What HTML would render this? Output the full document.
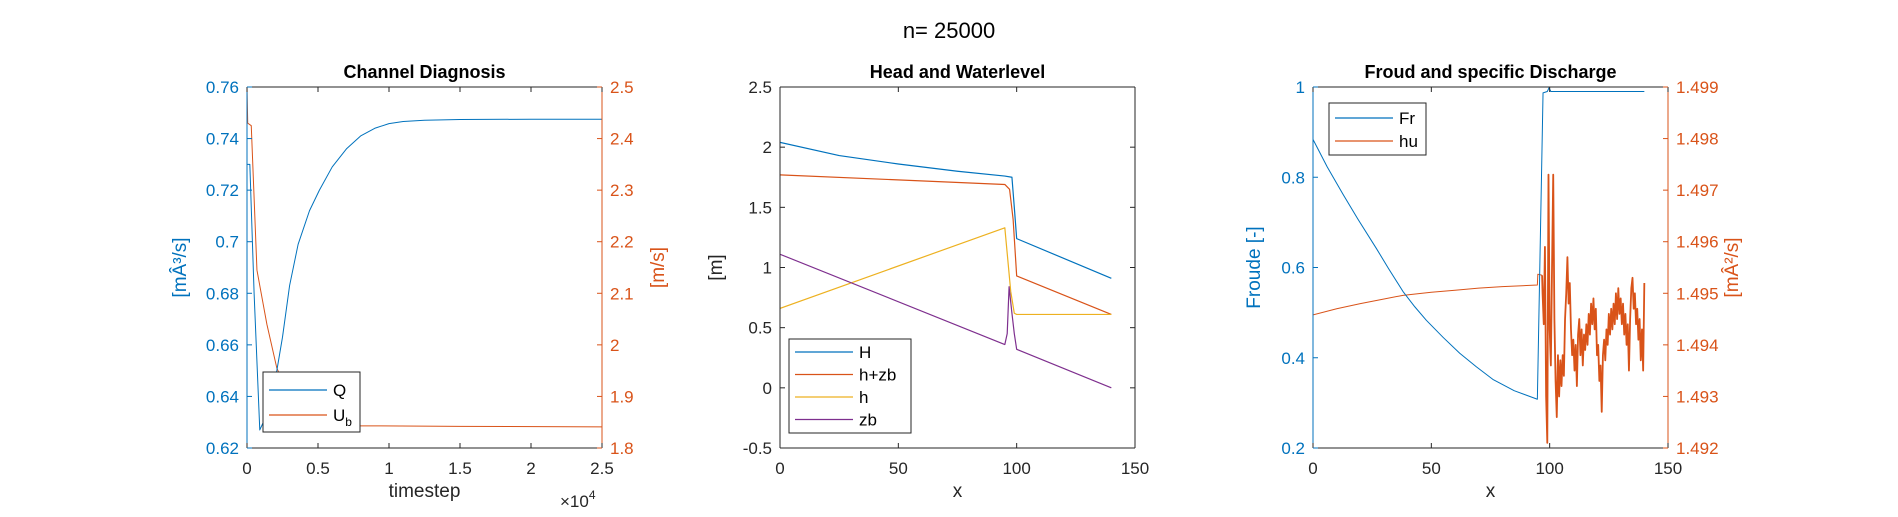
<!DOCTYPE html>
<html><head><meta charset="utf-8"><style>
html,body{margin:0;padding:0;background:#fff;}
svg{display:block;font-family:"Liberation Sans",Arial,sans-serif;}
</style></head><body>
<svg id="fig" width="1898" height="517" viewBox="0 0 1898 517">
<text x="949" y="38" font-size="22" text-anchor="middle" fill="#000">n= 25000</text>
</svg>
<script>
// ---- Panel 1 data: Channel Diagnosis ----
const qT = [0,0.02,0.05,0.09,0.14,0.21,0.25,0.30,0.36,0.44,0.51,0.60,0.70,0.80,0.90,1.0,1.1,1.25,1.5,2.0,2.5];
const qV = [0.73,0.73,0.68,0.627,0.633,0.650,0.663,0.683,0.699,0.712,0.720,0.729,0.736,0.741,0.744,0.7458,0.7466,0.7471,0.7474,0.7475,0.7475];
const uT = [0,0.005,0.03,0.07,0.10,0.14,0.21,0.30,0.45,0.60,0.80,1.5,2.5];
const uV = [2.5,2.43,2.425,2.145,2.10,2.04,1.955,1.90,1.86,1.848,1.843,1.842,1.841];
const ax1XTicks = [0,0.5,1,1.5,2,2.5];
const ax1XLabels = ["0","0.5","1","1.5","2","2.5"];
const ax1LTicks = [0.62,0.64,0.66,0.68,0.70,0.72,0.74,0.76];
const ax1LLabels = ["0.62","0.64","0.66","0.68","0.7","0.72","0.74","0.76"];
const ax1RTicks = [1.8,1.9,2.0,2.1,2.2,2.3,2.4,2.5];
const ax1RLabels = ["1.8","1.9","2","2.1","2.2","2.3","2.4","2.5"];
// ---- Panel 2 data: Head and Waterlevel ----
const hHx = [0,25,50,75,95,98,99,100,140];
const hHv = [2.04,1.93,1.86,1.80,1.76,1.75,1.5,1.24,0.91];
const hzbX = [0,95,97,98.5,100,140];
const hzbV = [1.77,1.69,1.65,1.40,0.93,0.61];
const hX = [0,95,97.5,99,100,140];
const hV = [0.66,1.33,0.80,0.62,0.61,0.61];
const zbX = [0,95,96,96.8,98,99,100,140];
const zbV = [1.11,0.36,0.45,0.84,0.62,0.45,0.32,0.0];
const ax2XTicks = [0,50,100,150];
const ax2YTicks = [-0.5,0,0.5,1,1.5,2,2.5];
const ax2YLabels = ["-0.5","0","0.5","1","1.5","2","2.5"];
// ---- Panel 3 data: Froud and specific Discharge ----
const frX = [0,6,12.7,19,26.8,32,38,43,47.9,55,62,69,76,85,94.8,97.2,99,99.7,100.5,140];
const frV = [0.884,0.823,0.762,0.707,0.642,0.597,0.547,0.513,0.483,0.445,0.410,0.380,0.352,0.327,0.308,0.987,0.99,0.998,0.990,0.990];
const huSmoothX = [0,10,20,30,38,50,60,70,80,94.8,95,96.8];
const huSmoothV = [1.49458,1.49470,1.49480,1.49489,1.49496,1.49502,1.49506,1.49510,1.49513,1.49516,1.49537,1.49535];
const huNoiseStart = 97, huNoiseEnd = 140;
const huNoise = [1.4950,1.4944,1.4959,1.4930,1.4921,1.4973,1.4943,1.4936,1.4955,1.4973,
1.4945,1.4933,1.4926,1.4938,1.4930,1.4937,1.4932,1.4938,1.4934,1.4945,
1.4950,1.4957,1.4948,1.4952,1.4943,1.4938,1.4941,1.4935,1.4940,1.4932,
1.4942,1.4945,1.4938,1.4943,1.4936,1.4942,1.4939,1.4944,1.4940,1.4946,
1.4942,1.4948,1.4944,1.4949,1.4943,1.4947,1.4938,1.4940,1.4933,1.4936,
1.4927,1.4938,1.4941,1.4937,1.4943,1.4940,1.4946,1.4942,1.4947,1.4943,
1.4948,1.4944,1.4950,1.4945,1.4951,1.4946,1.4949,1.4944,1.4948,1.4942,
1.4946,1.4940,1.4944,1.4935,1.4945,1.4951,1.4953,1.4947,1.4950,1.4944,
1.4947,1.4941,1.4945,1.4937,1.4943,1.4935,1.4952];
const ax3XTicks = [0,50,100,150];
const ax3LTicks = [0.2,0.4,0.6,0.8,1.0];
const ax3LLabels = ["0.2","0.4","0.6","0.8","1"];
const ax3RTicks = [1.492,1.493,1.494,1.495,1.496,1.497,1.498,1.499];

const BLUE="#0072BD", ORG="#D95319", YEL="#EDB120", PUR="#7E2F8E";
const NS="http://www.w3.org/2000/svg";
const svg=document.getElementById('fig');
function mk(tag,attrs,parent){const e=document.createElementNS(NS,tag);for(const k in attrs)e.setAttribute(k,attrs[k]);(parent||svg).appendChild(e);return e;}
function scale(d0,d1,r0,r1){return v=>r0+(v-d0)/(d1-d0)*(r1-r0);}
function line(xs,ys,sx,sy,color,name,g,w){
  let d='';for(let i=0;i<xs.length;i++){d+=(i?'L':'M')+sx(xs[i]).toFixed(2)+','+sy(ys[i]).toFixed(2);}
  const p=mk('path',{d:d,fill:'none',stroke:color,'stroke-width':w||1.2,'stroke-linejoin':'round'},g);
  
  
  return p;
}
function txt(x,y,s,opts,g){const t=mk('text',Object.assign({x:x,y:y,'font-size':17,fill:'#262626'},opts||{}),g);t.textContent=s;return t;}

function panel(cfg){
  const g=mk('g',{});
  
  
  const L=cfg.L,R=cfg.R,T=87,B=448;
  const sx=scale(cfg.xd[0],cfg.xd[1],L,R);
  const syl=scale(cfg.yl[0],cfg.yl[1],B,T);
  const syr=cfg.yr?scale(cfg.yr[0],cfg.yr[1],B,T):null;
  mk('rect',{x:L,y:T,width:R-L,height:B-T,fill:'#fff'},g);
  const clip='clip'+cfg.name;
  const cp=mk('clipPath',{id:clip},g);mk('rect',{x:L,y:T-1,width:R-L,height:B-T+2},cp);
  const sg=mk('g',{'clip-path':'url(#'+clip+')'},g);
  cfg.series(sg,sx,syl,syr);
  const lc=cfg.yr?BLUE:'#262626', rc=cfg.yr?ORG:'#262626';
  mk('line',{x1:L,y1:T,x2:R,y2:T,stroke:'#262626','stroke-width':1},g);
  mk('line',{x1:L,y1:B,x2:R,y2:B,stroke:'#262626','stroke-width':1},g);
  const la=mk('line',{x1:L,y1:T,x2:L,y2:B,stroke:lc,'stroke-width':1},g);
  
  
  mk('line',{x1:R,y1:T,x2:R,y2:B,stroke:rc,'stroke-width':1},g);
  cfg.xt.forEach((v,i)=>{const x=sx(v);
    mk('line',{x1:x,y1:B,x2:x,y2:B-5,stroke:'#262626'},g);
    mk('line',{x1:x,y1:T,x2:x,y2:T+5,stroke:'#262626'},g);
    const t=txt(x,B+26,cfg.xl[i],{'text-anchor':'middle'},g);
    
    
  });
  cfg.ylt.forEach((v,i)=>{const y=syl(v);
    mk('line',{x1:L,y1:y,x2:L+5,y2:y,stroke:lc},g);
    if(!cfg.yr) mk('line',{x1:R,y1:y,x2:R-5,y2:y,stroke:'#262626'},g);
    const t=txt(L-8,y+6,cfg.yll[i],{'text-anchor':'end',fill:cfg.yr?BLUE:'#262626'},g);
    
    
  });
  if(cfg.yr){cfg.yrt.forEach((v,i)=>{const y=syr(v);
    mk('line',{x1:R,y1:y,x2:R-5,y2:y,stroke:ORG},g);
    const t=txt(R+8,y+6,cfg.yrl[i],{fill:ORG},g);
    
    
  });}
  const tt=txt((L+R)/2,78,cfg.title,{'text-anchor':'middle','font-weight':'bold','font-size':18,fill:'#000'},g);
  
  
  const xl=txt((L+R)/2,497,cfg.xlabel,{'text-anchor':'middle','font-size':19},g);
  
  
  const yl=txt(0,0,cfg.ylabel,{'text-anchor':'middle','font-size':19,fill:cfg.yr?BLUE:'#262626',transform:'translate('+cfg.ylx+','+(T+B)/2+') rotate(-90)'},g);
  
  
  if(cfg.yrlabel){const r=txt(0,0,cfg.yrlabel,{'text-anchor':'middle','font-size':19,fill:ORG,transform:'translate('+cfg.yrlx+','+(T+B)/2+') rotate(-90)'},g);
    
    }
  const lg=cfg.legend;
  const lgG=mk('g',{},g);
  
  
  mk('rect',{x:lg.x,y:lg.y,width:lg.w,height:lg.h,fill:'#fff',stroke:'#262626','stroke-width':1},lgG);
  lg.items.forEach((it,i)=>{const y=lg.y+lg.pad+i*lg.step;
    mk('line',{x1:lg.x+6,y1:y,x2:lg.x+64,y2:y,stroke:it.c,'stroke-width':1.2},lgG);
    const t=txt(lg.x+70,y+6,'',{'font-size':17,fill:'#000'},lgG);
    t.innerHTML=it.t;
    
    
  });
  if(cfg.extra) cfg.extra(g);
}

panel({name:'channel-diagnosis',L:247,R:602,xd:[0,2.5],yl:[0.62,0.76],yr:[1.8,2.5],
  xt:ax1XTicks,xl:ax1XLabels,ylt:ax1LTicks,yll:ax1LLabels,yrt:ax1RTicks,yrl:ax1RLabels,
  title:'Channel Diagnosis',xlabel:'timestep',ylabel:'[mÂ³/s]',ylx:186,yrlabel:'[m/s]',yrlx:664,
  series:(g,sx,sl,sr)=>{line(uT,uV,sx,sr,ORG,'ub-line',g,1);line(qT,qV,sx,sl,BLUE,'q-line',g,1);},
  legend:{x:263,y:372,w:97,h:60,pad:18,step:25,items:[{t:'Q',c:BLUE},{t:'U<tspan font-size="12" dy="5">b</tspan>',c:ORG}]},
  extra:g=>{const t=txt(560,507,'',{'font-size':17},g);t.innerHTML='×10<tspan font-size="12" dy="-8">4</tspan>';
    
    }
});
panel({name:'head-and-waterlevel',L:780,R:1135,xd:[0,150],yl:[-0.5,2.5],
  xt:ax2XTicks,xl:ax2XTicks.map(String),ylt:ax2YTicks,yll:ax2YLabels,
  title:'Head and Waterlevel',xlabel:'x',ylabel:'[m]',ylx:722,
  series:(g,sx,sy)=>{line(hHx,hHv,sx,sy,BLUE,'H-line',g);line(hzbX,hzbV,sx,sy,ORG,'h-plus-zb-line',g);line(hX,hV,sx,sy,YEL,'h-line',g);line(zbX,zbV,sx,sy,PUR,'zb-line',g);},
  legend:{x:789,y:339,w:122,h:94,pad:13,step:22.5,items:[{t:'H',c:BLUE},{t:'h+zb',c:ORG},{t:'h',c:YEL},{t:'zb',c:PUR}]}
});
panel({name:'froud-and-discharge',L:1313,R:1668,xd:[0,150],yl:[0.2,1.0],yr:[1.492,1.499],
  xt:ax3XTicks,xl:ax3XTicks.map(String),ylt:ax3LTicks,yll:ax3LLabels,yrt:ax3RTicks,yrl:ax3RTicks.map(v=>v.toFixed(3)),
  title:'Froud and specific Discharge',xlabel:'x',ylabel:'Froude [-]',ylx:1260,yrlabel:'[mÂ²/s]',yrlx:1738,
  series:(g,sx,sl,sr)=>{
    const nx=huNoise.map((v,i)=>huNoiseStart+i*(huNoiseEnd-huNoiseStart)/(huNoise.length-1));
    const lastX=huSmoothX[huSmoothX.length-1], lastV=huSmoothV[huSmoothV.length-1];
    line(huSmoothX,huSmoothV,sx,sr,ORG,'hu-line-smooth',g,1);
    line([lastX].concat(nx),[lastV].concat(huNoise),sx,sr,ORG,'hu-line-noisy',g,1.8);
    line(frX,frV,sx,sl,BLUE,'fr-line',g,1);},
  legend:{x:1329,y:103,w:97,h:52,pad:15,step:23,items:[{t:'Fr',c:BLUE},{t:'hu',c:ORG}]}
});
</script>
</body></html>
